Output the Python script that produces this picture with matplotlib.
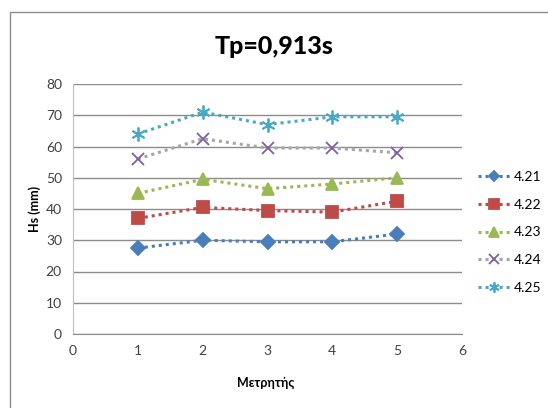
import matplotlib.pyplot as plt
from matplotlib.patches import Rectangle

meters = [1, 2, 3, 4, 5]
series_names = ['4.21', '4.22', '4.23', '4.24', '4.25']
hs_421 = [27.5, 30.0, 29.5, 29.5, 32.0]
hs_422 = [37.0, 40.5, 39.5, 39.0, 42.5]
hs_423 = [45.0, 49.5, 46.5, 48.0, 50.0]
hs_424 = [56.0, 62.5, 59.5, 59.5, 58.0]
hs_425 = [64.0, 71.0, 67.0, 69.5, 69.5]

plt.rcParams['font.family'] = ['Lato', 'DejaVu Sans']

# (line colour, marker colour, marker, size)
styles = [
    ('#4a7ebb', '#4a7ebb', 'D', 7),
    ('#be4b48', '#be4b48', 's', 9),
    ('#98b954', '#98b954', '^', 9),
    ('#a6a6a6', '#7d60a0', 'x', 9),
    ('#46aac5', '#46aac5', (6, 2, 0), 10),
]


def main():
    fig = plt.figure(figsize=(5.48, 4.08), dpi=100)
    fig.patches.append(Rectangle((10 / 548, -0.05), 1.0, 1 - 12 / 408 + 0.05,
                                 transform=fig.transFigure, fill=False,
                                 edgecolor='#8c8c8c', linewidth=1.0))
    ax = fig.add_axes([73 / 548, 1 - 334 / 408, 389 / 548, 250 / 408])

    handles = []
    for vals, name, (lc, mc, mk, ms) in zip(
            [hs_421, hs_422, hs_423, hs_424, hs_425], series_names, styles):
        h, = ax.plot(meters, vals, linestyle=(0, (1, 1.3)), linewidth=2.2,
                     color=lc, marker=mk, markersize=ms,
                     markerfacecolor=mc, markeredgecolor=mc,
                     markeredgewidth=1.3, label=name)
        handles.append(h)

    ax.set_xlim(0, 6)
    ax.set_ylim(0, 80)
    ax.set_xticks(range(0, 7))
    ax.set_yticks(range(0, 81, 10))
    ax.yaxis.grid(True, color='#8c8c8c', linewidth=1.0)
    ax.set_axisbelow(True)
    for side in ['top', 'right']:
        ax.spines[side].set_visible(False)
    ax.spines['left'].set_color('#bfbfbf')
    ax.spines['bottom'].set_color('#8c8c8c')
    ax.tick_params(length=0, labelsize=10, colors='#404040', pad=8)

    fig.text(0.5, 1 - 47 / 408, 'Tp=0,913s', ha='center', va='center',
             fontsize=18, fontweight='black')
    fig.text(266 / 548, 1 - 383 / 408, 'Μετρητής', ha='center', va='center',
             fontsize=9, fontweight='bold')
    fig.text(35 / 548, 1 - 209 / 408, 'Hs (mm)', ha='center', va='center',
             rotation=90, fontsize=9, fontweight='bold')

    fig.legend(handles=handles, loc='upper left',
               bbox_to_anchor=(478 / 548, 1 - 171 / 408), frameon=False,
               fontsize=10, handlelength=2.3, labelspacing=1.13,
               handletextpad=0.3, markerscale=0.75, borderaxespad=0,
               borderpad=0)

    fig.savefig('out.png', dpi=100)


if __name__ == '__main__':
    main()
